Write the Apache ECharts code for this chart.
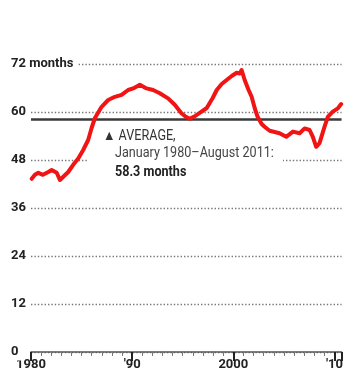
<!DOCTYPE html>
<html>
<head>
<meta charset="utf-8">
<script src="https://cdn.jsdelivr.net/npm/echarts@6/dist/echarts.min.js"></script>
<style>
  html, body { margin: 0; padding: 0; background: #fff; }
  #chart { width: 346px; height: 381px; }
</style>
</head>
<body>
<div id="chart"></div>
<script>
// Median duration of new-car loans, in months
const years = [
  1980.07, 1980.39, 1980.72, 1981.18, 1981.71, 1982.04, 1982.54, 1982.86, 1983.19, 1983.68,
  1984.17, 1984.67, 1985.16, 1985.65, 1985.99, 1986.32, 1986.98, 1987.63, 1988.29, 1988.95,
  1989.60, 1990.10, 1990.76, 1991.42, 1992.07, 1992.73, 1993.55, 1994.21, 1994.87, 1995.30,
  1995.69, 1996.09, 1996.68, 1997.37, 1997.96, 1998.36, 1998.85, 1999.34, 1999.84, 2000.33,
  2000.63, 2000.82, 2001.12, 2001.51, 2001.81, 2002.11, 2002.40, 2002.80, 2003.09, 2003.59,
  2004.08, 2004.57, 2005.23, 2005.89, 2006.55, 2007.05, 2007.54, 2007.86, 2008.19, 2008.52,
  2009.01, 2009.34, 2009.83, 2010.33, 2010.66
];
const months = [
  43.3, 44.3, 44.8, 44.3, 45.0, 45.5, 44.8, 43.0, 43.8, 45.0,
  46.8, 48.4, 50.5, 53.0, 56.0, 58.5, 61.3, 63.0, 63.8, 64.3,
  65.5, 65.9, 66.8, 65.9, 65.5, 64.7, 63.4, 61.8, 59.7, 58.8,
  58.3, 58.8, 59.8, 61.0, 63.5, 65.5, 67.0, 68.0, 69.0, 69.8,
  69.6, 70.5, 68.0, 65.5, 63.8, 61.0, 58.8, 57.0, 56.3, 55.3,
  55.0, 54.7, 53.8, 55.1, 54.7, 55.9, 55.5, 53.8, 51.3, 52.2,
  56.3, 58.8, 60.1, 60.9, 62.0
];
const averageMonths = 58.3;
const yTicks = [0, 12, 24, 36, 48, 60, 72];
const xTickLabels = { 1980: '1980', 1990: "'90", 2000: '2000', 2010: "'10" };
const yTickLabels = { 72: '72 months' };
const noteLines = ['\u25B2 AVERAGE,', 'January 1980\u2013August 2011:', averageMonths + ' months'];

const FONT = "Roboto, 'Liberation Sans', sans-serif";
const TEXT = '#222';

const chart = echarts.init(document.getElementById('chart'), null, { renderer: 'canvas' });

const yBase = {
  type: 'value',
  min: yTicks[0],
  max: yTicks[yTicks.length - 1],
  interval: 12,
  axisLine: { show: false },
  axisTick: { show: false }
};

// condensed note text: narrow the glyphs horizontally
function note(text, x, y, weight, fill) {
  return {
    type: 'text', z: 20, x: x, y: y, scaleX: 0.9, scaleY: 1,
    style: { text: text, font: weight + ' 14px ' + FONT, fill: fill, textVerticalAlign: 'top' }
  };
}

chart.setOption({
  animation: false,
  backgroundColor: '#fff',
  grid: { left: 31, right: 4, top: 64, bottom: 29, containLabel: false },
  xAxis: {
    type: 'value',
    min: 1980,
    max: 2010.7,
    interval: 10,
    axisLine: { show: true, onZero: false, lineStyle: { color: '#555', width: 1.5 } },
    axisTick: { show: true, length: 9, lineStyle: { color: '#222', width: 2 } },
    minorTick: { show: true, splitNumber: 10, length: 4, lineStyle: { color: '#777', width: 1 } },
    splitLine: { show: false },
    axisLabel: {
      margin: 6,
      fontFamily: FONT, fontSize: 13, fontWeight: 'bold', color: TEXT,
      showMaxLabel: false,
      formatter: v => xTickLabels[v] || ''
    }
  },
  yAxis: [
    Object.assign({}, yBase, {
      z: 0,
      axisLabel: { show: false },
      splitLine: { show: true, lineStyle: { color: '#777', width: 1.4, type: [1.4, 2] } }
    }),
    Object.assign({}, yBase, {
      z: 5,
      position: 'left',
      splitLine: { show: false },
      axisLabel: {
        align: 'left',
        margin: 20,
        fontFamily: FONT, fontSize: 13, fontWeight: 'bold', color: TEXT,
        backgroundColor: '#fff',
        padding: [2, 5, 2, 0],
        formatter: v => yTickLabels[v] || String(v)
      }
    })
  ],
  series: [{
    type: 'line',
    z: 3,
    yAxisIndex: 0,
    data: years.map((y, i) => [y, months[i]]),
    showSymbol: false,
    smooth: false,
    lineStyle: { color: '#f01414', width: 4, join: 'round', cap: 'round' },
    markLine: {
      z: 1,
      silent: true,
      symbol: 'none',
      label: { show: false },
      lineStyle: { color: '#3a3a3a', width: 2.5, type: 'solid' },
      data: [{ yAxis: averageMonths }]
    }
  }],
  graphic: [
    // clears the 48 gridline behind the average note
    { type: 'rect', z: 10, shape: { x: 88, y: 155, width: 195, height: 9 }, style: { fill: '#fff' } },
    note(noteLines[0], 103, 129, 'normal', '#333'),
    note(noteLines[1], 115, 146, 'normal', '#444'),
    note(noteLines[2], 115, 165, 'bold', TEXT)
  ]
});
</script>
</body>
</html>
